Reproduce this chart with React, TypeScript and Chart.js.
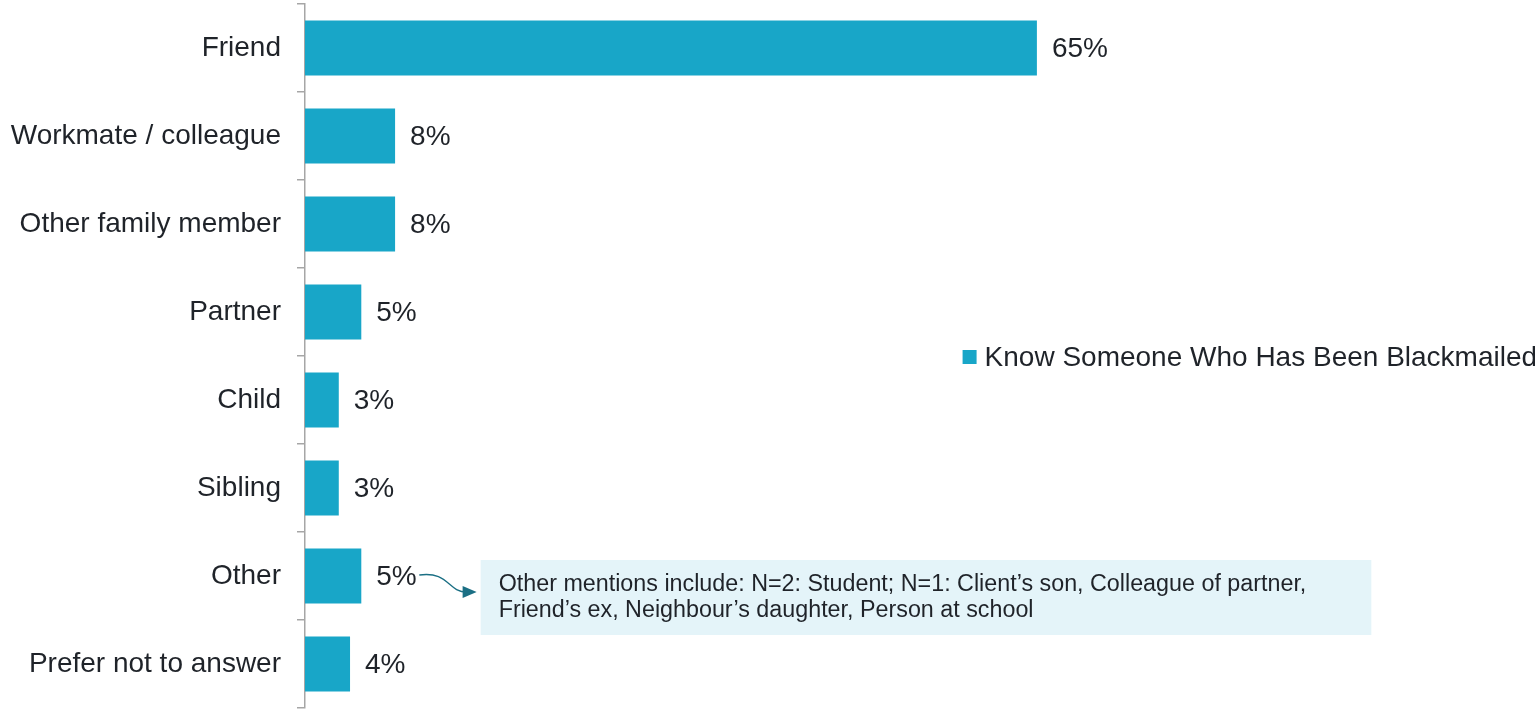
import React, { useEffect, useRef } from "react";
import { Chart, registerables } from "chart.js";

Chart.register(...registerables);

const categories = [
  "Friend",
  "Workmate / colleague",
  "Other family member",
  "Partner",
  "Child",
  "Sibling",
  "Other",
  "Prefer not to answer",
];
const values = [65, 8, 8, 5, 3, 3, 5, 4];
const seriesLabel = "Know Someone Who Has Been Blackmailed";
const noteLines = [
  "Other mentions include: N=2: Student; N=1: Client\u2019s son, Colleague of partner,",
  "Friend\u2019s ex, Neighbour\u2019s daughter, Person at school",
];
const noteCategory = "Other";

const FONT = "'Liberation Sans', Arial, sans-serif";
const BAR = "#18a6c8";
const TEXT = "#1f2329";

const valueLabels = {
  id: "valueLabels",
  afterDatasetsDraw(chart: any) {
    const ctx = chart.ctx;
    const meta = chart.getDatasetMeta(0);
    ctx.save();
    ctx.font = `28px ${FONT}`;
    ctx.fillStyle = TEXT;
    ctx.textAlign = "left";
    ctx.textBaseline = "middle";
    meta.data.forEach((el: any, i: number) => {
      ctx.fillText(`${values[i]}%`, el.x + 15, el.y + 1);
    });
    ctx.restore();
  },
};

const legendAndNote = {
  id: "legendAndNote",
  afterDraw(chart: any) {
    const ctx = chart.ctx;
    const y = chart.scales.y;
    const x = chart.scales.x;
    ctx.save();
    // legend
    const ly = (y.top + y.bottom) / 2 + 1;
    const lx = x.getPixelForValue(58.4);
    ctx.fillStyle = BAR;
    ctx.fillRect(lx, ly - 7, 14, 14);
    ctx.fillStyle = TEXT;
    ctx.font = `28px ${FONT}`;
    ctx.textAlign = "left";
    ctx.textBaseline = "middle";
    ctx.fillText(seriesLabel, lx + 22, ly + 1);

    // note box
    const idx = categories.indexOf(noteCategory);
    const cy = y.getPixelForValue(idx);
    const bx0 = x.getPixelForValue(15.6);
    const bx1 = x.getPixelForValue(94.7);
    const by0 = cy - 16;
    const by1 = cy + 59;
    ctx.fillStyle = "#e4f4f9";
    ctx.fillRect(bx0, by0, bx1 - bx0, by1 - by0);
    ctx.fillStyle = TEXT;
    ctx.font = `23.3px ${FONT}`;
    ctx.textBaseline = "middle";
    ctx.fillText(noteLines[0], bx0 + 18, by0 + 25);
    ctx.fillText(noteLines[1], bx0 + 18, by0 + 51);

    // arrow
    const meta = chart.getDatasetMeta(0);
    const el = meta.data[idx];
    const sx = el.x + 58;
    const sy = cy - 1;
    const ex = bx0 - 8;
    const ey = cy + 16;
    ctx.strokeStyle = "#1b6f84";
    ctx.lineWidth = 1.3;
    ctx.beginPath();
    ctx.moveTo(sx, sy);
    ctx.bezierCurveTo(sx + 30, sy - 4, sx + 28, ey, ex - 6, ey);
    ctx.stroke();
    ctx.fillStyle = "#1b6f84";
    ctx.beginPath();
    ctx.moveTo(ex + 4, ey);
    ctx.lineTo(ex - 10, ey - 6);
    ctx.lineTo(ex - 10, ey + 6);
    ctx.closePath();
    ctx.fill();
    ctx.restore();
  },
};

export default function App() {
  const ref = useRef<HTMLCanvasElement>(null);
  useEffect(() => {
    if (!ref.current) return;
    const chart = new Chart(ref.current, {
      type: "bar",
      data: {
        labels: categories,
        datasets: [
          {
            label: seriesLabel,
            data: values,
            backgroundColor: BAR,
            categoryPercentage: 1,
            barPercentage: 0.625,
          },
        ],
      },
      options: {
        indexAxis: "y",
        animation: false,
        responsive: false,
        maintainAspectRatio: false,
        layout: { padding: { top: 4, bottom: 3, right: 104, left: 0 } },
        plugins: { legend: { display: false }, tooltip: { enabled: false } },
        scales: {
          x: { display: false, min: 0, max: 100 },
          y: {
            afterFit(scale: any) {
              scale.width = 305;
              scale.paddingTop = 0;
              scale.paddingBottom = 0;
            },
            grid: {
              offset: true,
              drawOnChartArea: false,
              drawTicks: true,
              tickLength: 8,
              color: "#a6a6a6",
              lineWidth: 1.5,
            },
            border: { color: "#a6a6a6", width: 1.5 },
            ticks: {
              color: TEXT,
              padding: 16,
              font: { family: FONT, size: 28 },
            },
          },
        },
      },
      plugins: [valueLabels, legendAndNote],
    });
    return () => chart.destroy();
  }, []);
  return (
    <div style={{ position: "fixed", left: 0, top: 0, width: 1535, height: 711, background: "#fff" }}>
      <canvas ref={ref} width={1535} height={711} style={{ display: "block" }} />
    </div>
  );
}
